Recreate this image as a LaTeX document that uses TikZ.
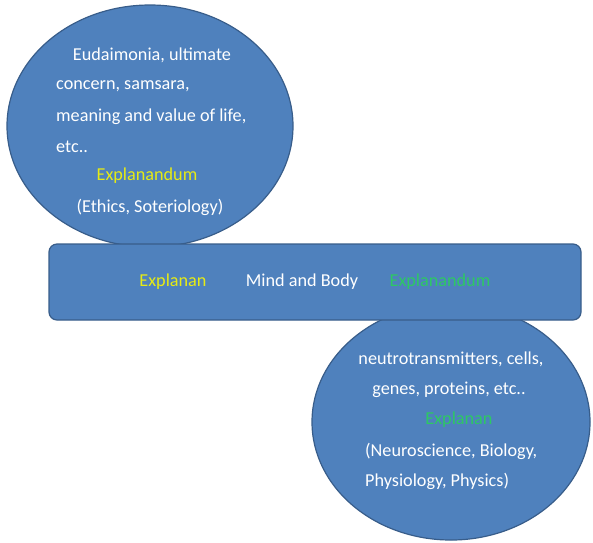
\documentclass[tikz,border=0pt]{standalone}
\usepackage{fontspec}
\setmainfont{Carlito}
\definecolor{boxfill}{RGB}{79,129,189}
\definecolor{boxline}{RGB}{56,93,138}
\definecolor{tagyellow}{RGB}{230,235,20}
\definecolor{taggreen}{RGB}{45,200,100}
\begin{document}
\begin{tikzpicture}[x=1pt,y=-1pt,
  blob/.style={draw=boxline,fill=boxfill,line width=1.2pt},
  txt/.style={text=white,font=\fontsize{18.2}{21}\selectfont,inner sep=0pt},
  yel/.style={txt,text=tagyellow},
  grn/.style={txt,text=taggreen}]
\useasboundingbox (0,0) rectangle (593,542);
% the two ellipses sit behind the central bar
\draw[blob] (150,126) ellipse [x radius=143,y radius=121];
\draw[blob] (451,422) ellipse [x radius=139,y radius=118];
\draw[blob,rounded corners=8pt] (49,244) rectangle (581,320);
% upper ellipse text
\node[txt] (e1) at (152,55) {Eudaimonia, ultimate};
\node[txt,anchor=west] (e2) at (56,86) {concern, samsara,};
\node[txt,anchor=west] (e3) at (56,117) {meaning and value of life,};
\node[txt,anchor=west] (e4) at (56,147) {etc..};
\node[yel] (e5) at (147,176) {Explanandum};
\node[txt] (e6) at (150,207) {(Ethics, Soteriology)};
% bar text
\node[yel] (b1) at (173,282) {Explanan};
\node[txt] (b2) at (302,282) {Mind and Body};
\node[grn] (b3) at (440,282) {Explanandum};
% lower ellipse text
\node[txt] (n1) at (451,359) {neutrotransmitters, cells,};
\node[txt] (n2) at (449,390) {genes, proteins, etc..};
\node[grn] (n3) at (459,420) {Explanan};
\node[txt,anchor=west] (n4) at (365,451) {(Neuroscience, Biology,};
\node[txt,anchor=west] (n5) at (365,481) {Physiology, Physics)};
\end{tikzpicture}
\end{document}
